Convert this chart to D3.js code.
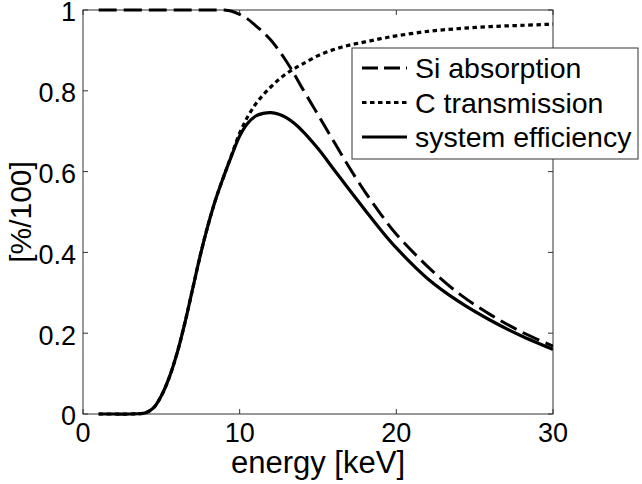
<!DOCTYPE html>
<html>
<head>
<meta charset="utf-8">
<script src="https://cdn.jsdelivr.net/npm/d3@7"></script>
<style>
  html, body { margin: 0; padding: 0; background: #fff; }
  svg { display: block; font-family: "Liberation Sans", Arial, Helvetica, sans-serif; }
</style>
</head>
<body>
<svg id="chart" width="642" height="484"></svg>
<script>
// ---- data ----
const energy = [1, 2, 3, 4, 4.5, 5, 5.5, 6, 6.5, 7, 7.5, 8, 8.5, 9, 9.5, 10, 10.5, 11, 11.5, 12, 12.5, 13, 13.5, 14, 15, 16, 17, 18, 19, 20, 22, 24, 26, 28, 30];
const siAbsorption = [1, 1, 1, 1, 1, 1, 1, 1, 1, 1, 1, 1, 1, 1, 0.997, 0.989, 0.978, 0.962, 0.945, 0.925, 0.9, 0.872, 0.84, 0.806, 0.741, 0.675, 0.61, 0.55, 0.495, 0.445, 0.365, 0.298, 0.246, 0.203, 0.168];
const cTransmission = [0, 0, 0, 0.003, 0.015, 0.045, 0.09, 0.15, 0.225, 0.31, 0.395, 0.47, 0.535, 0.59, 0.643, 0.695, 0.735, 0.766, 0.79, 0.81, 0.828, 0.843, 0.855, 0.866, 0.887, 0.902, 0.913, 0.921, 0.929, 0.936, 0.947, 0.954, 0.959, 0.962, 0.965];
const systemEfficiency = [0, 0, 0, 0.003, 0.015, 0.045, 0.09, 0.15, 0.225, 0.31, 0.395, 0.47, 0.535, 0.59, 0.641, 0.688, 0.719, 0.737, 0.744, 0.746, 0.742, 0.733, 0.719, 0.701, 0.657, 0.606, 0.555, 0.505, 0.456, 0.411, 0.335, 0.278, 0.232, 0.193, 0.16];
const seriesNames = ["Si absorption", "C transmission", "system efficiency"];
const xTicks = [0, 10, 20, 30];
const yTicks = [0, 0.2, 0.4, 0.6, 0.8, 1];
const xLabel = "energy [keV]";
const yLabel = "[%/100]";

// ---- layout ----
const svg = d3.select("#chart");
const L = 83, R = 553, T = 10, B = 414;
const x = d3.scaleLinear().domain([0, 30]).range([L, R]);
const y = d3.scaleLinear().domain([0, 1]).range([B, T]);
const axisColor = "#333";
const tickFont = 27;

const styles = [
  { dash: "18,7", width: 3 },
  { dash: "4.5,3.5", width: 3.2 },
  { dash: null, width: 3.2 }
];
const seriesData = [siAbsorption, cTransmission, systemEfficiency];

// axes box
svg.append("rect").attr("x", L).attr("y", T).attr("width", R - L).attr("height", B - T)
  .attr("fill", "none").attr("stroke", axisColor).attr("stroke-width", 1);

// ticks (inside, on all four sides)
const tk = 5;
const g = svg.append("g");
xTicks.forEach(t => {
  g.append("line").attr("x1", x(t)).attr("x2", x(t)).attr("y1", B).attr("y2", B - tk).attr("stroke", axisColor);
  g.append("line").attr("x1", x(t)).attr("x2", x(t)).attr("y1", T).attr("y2", T + tk).attr("stroke", axisColor);
  g.append("text").attr("x", x(t)).attr("y", 442).attr("text-anchor", "middle")
    .attr("font-size", tickFont).attr("fill", "#000").text(t);
});
yTicks.forEach(t => {
  g.append("line").attr("x1", L).attr("x2", L + tk).attr("y1", y(t)).attr("y2", y(t)).attr("stroke", axisColor);
  g.append("line").attr("x1", R).attr("x2", R - tk).attr("y1", y(t)).attr("y2", y(t)).attr("stroke", axisColor);
  g.append("text").attr("x", 76).attr("y", y(t)).attr("dy", "0.42em").attr("text-anchor", "end")
    .attr("font-size", tickFont).attr("fill", "#000")
    .text(t === 0 || t === 1 ? d3.format("d")(t) : d3.format(".1f")(t));
});

// axis labels
svg.append("text").attr("x", (L + R) / 2).attr("y", 473).attr("text-anchor", "middle")
  .attr("font-size", 31).attr("fill", "#000").text(xLabel);
svg.append("text").attr("transform", `translate(31,${(T + B) / 2}) rotate(-90)`)
  .attr("text-anchor", "middle").attr("font-size", 30).attr("fill", "#000").text(yLabel);

// lines
svg.append("clipPath").attr("id", "clip").append("rect")
  .attr("x", L).attr("y", T - 2).attr("width", R - L).attr("height", B - T + 4);
const lineGen = vals => d3.line()
  .x((d, i) => x(energy[i]))
  .y(d => y(d))
  .curve(d3.curveCatmullRom.alpha(0.5))(vals);
const plot = svg.append("g").attr("clip-path", "url(#clip)");
[1, 0, 2].forEach(k => {
  plot.append("path").attr("d", lineGen(seriesData[k]))
    .attr("fill", "none").attr("stroke", "#000")
    .attr("stroke-width", styles[k].width)
    .attr("stroke-dasharray", styles[k].dash)
    .attr("stroke-linejoin", "round");
});

// legend
const lg = svg.append("g");
lg.append("rect").attr("x", 352).attr("y", 48).attr("width", 286).attr("height", 111)
  .attr("fill", "#fff").attr("stroke", axisColor).attr("stroke-width", 1);
seriesNames.forEach((name, i) => {
  const cy = 68 + i * 34.5;
  lg.append("line").attr("x1", 362).attr("x2", 407).attr("y1", cy).attr("y2", cy)
    .attr("stroke", "#000").attr("stroke-width", styles[i].width)
    .attr("stroke-dasharray", i === 0 ? "16,6" : styles[i].dash);
  lg.append("text").attr("x", 415).attr("y", cy).attr("dy", "0.36em")
    .attr("font-size", 28.5).attr("fill", "#000").text(name);
});
</script>
</body>
</html>
